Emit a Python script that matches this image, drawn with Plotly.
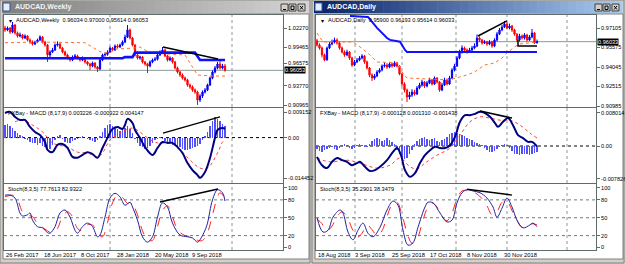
import plotly.graph_objects as go

W, H = 625, 264
FONT = "Liberation Sans"

# ---------------- AUDCAD Weekly (left window) ----------------
WK_OPEN = [1.0227,1.0198,1.0227,1.0168,1.0271,1.0154,1.0110,1.0124,1.0080,1.0110,
           1.0051,1.0021,0.9992,1.0021,1.0051,1.0095,1.0021,0.9977,0.9831,0.9875,
           0.9904,0.9977,0.9992,0.9933,0.9875,0.9831,0.9787,0.9757,0.9801,0.9816,
           0.9787,0.9757,0.9787,0.9728,0.9698,0.9669,0.9713,0.9654,0.9625,0.9757,
           0.9831,0.9840,0.9875,0.9933,0.9904,0.9963,0.9948,0.9977,1.0021,1.0095,
           1.0198,1.0080,0.9977,0.9831,0.9787,0.9800,0.9728,0.9698,0.9669,0.9728,
           0.9757,0.9770,0.9831,0.9875,0.9904,0.9816,0.9757,0.9787,0.9728,0.9640,
           0.9581,0.9537,0.9493,0.9464,0.9390,0.9361,0.9317,0.9287,0.9170,0.9229,
           0.9287,0.9317,0.9390,0.9493,0.9581,0.9640,0.9698,0.9640,0.9669]
WK_CLOSE = [1.0198,1.0227,1.0168,1.0271,1.0154,1.0110,1.0124,1.0080,1.0110,1.0051,
            1.0021,0.9992,1.0021,1.0051,1.0095,1.0021,0.9977,0.9831,0.9875,0.9904,
            0.9977,0.9992,0.9933,0.9875,0.9831,0.9787,0.9757,0.9801,0.9816,0.9787,
            0.9757,0.9787,0.9728,0.9698,0.9669,0.9713,0.9654,0.9625,0.9757,0.9831,
            0.9840,0.9875,0.9933,0.9904,0.9963,0.9948,0.9977,1.0021,1.0095,1.0198,
            1.0080,0.9977,0.9831,0.9787,0.9800,0.9728,0.9698,0.9669,0.9728,0.9757,
            0.9770,0.9831,0.9875,0.9904,0.9816,0.9757,0.9787,0.9728,0.9640,0.9581,
            0.9537,0.9493,0.9464,0.9390,0.9361,0.9317,0.9287,0.9170,0.9229,0.9287,
            0.9317,0.9390,0.9493,0.9581,0.9640,0.9698,0.9640,0.9669,0.9605]
WK_HIGH = [1.0260,1.0250,1.0240,1.0315,1.0285,1.0175,1.0160,1.0140,1.0135,1.0120,
           1.0075,1.0045,1.0040,1.0070,1.0120,1.0110,1.0040,0.9990,0.9900,0.9935,
           1.0000,1.0030,1.0010,0.9950,0.9895,0.9850,0.9805,0.9825,0.9845,0.9835,
           0.9800,0.9810,0.9800,0.9745,0.9715,0.9735,0.9725,0.9670,0.9775,0.9850,
           0.9865,0.9900,0.9955,0.9950,0.9985,0.9990,1.0000,1.0045,1.0130,1.0271,
           1.0220,1.0095,0.9990,0.9850,0.9820,0.9815,0.9745,0.9715,0.9750,0.9780,
           0.9800,0.9855,0.9900,0.9948,0.9925,0.9835,0.9810,0.9800,0.9745,0.9660,
           0.9600,0.9560,0.9515,0.9480,0.9410,0.9385,0.9340,0.9305,0.9255,0.9310,
           0.9345,0.9410,0.9515,0.9605,0.9670,0.9730,0.9750,0.9700,0.9700]
WK_LOW = [1.0170,1.0180,1.0140,1.0150,1.0130,1.0085,1.0090,1.0060,1.0065,1.0030,
          0.9995,0.9970,0.9975,1.0005,1.0035,1.0000,0.9955,0.9728,0.9800,0.9860,
          0.9890,0.9955,0.9915,0.9855,0.9810,0.9765,0.9735,0.9740,0.9785,0.9770,
          0.9735,0.9740,0.9705,0.9675,0.9610,0.9650,0.9630,0.9581,0.9610,0.9740,
          0.9805,0.9820,0.9860,0.9885,0.9890,0.9930,0.9935,0.9960,1.0005,1.0080,
          1.0060,0.9955,0.9810,0.9765,0.9760,0.9705,0.9675,0.9566,0.9650,0.9710,
          0.9740,0.9750,0.9815,0.9860,0.9800,0.9735,0.9740,0.9705,0.9620,0.9560,
          0.9510,0.9470,0.9440,0.9365,0.9335,0.9290,0.9260,0.9097,0.9140,0.9200,
          0.9265,0.9300,0.9375,0.9475,0.9560,0.9620,0.9615,0.9620,0.9585]
WK_BLUE_X = [0, 47, 48, 51, 52, 76, 77, 78, 88]
WK_BLUE = [0.9783, 0.9783, 0.9800, 0.9800, 0.9865, 0.9865, 0.9810, 0.9757, 0.9757]
WK_ORG_X = [0, 14, 32, 38, 42, 44, 52, 54, 58, 72, 74, 77, 83, 88]
WK_ORG = [1.0011, 1.0021, 1.0011, 0.9879, 0.9860, 0.9919, 0.9933, 0.9948, 0.9860,
          0.9831, 0.9713, 0.9537, 0.9522, 0.9522]
WK_HIST = [0.0045,0.0050,0.0042,0.0035,0.0025, 0.0015,0.0010,0.0005,-0.0005,-0.0010,
           -0.0015,-0.0020,-0.0018,-0.0025,-0.0020, -0.0030,-0.0035,-0.0045,-0.0040,-0.0025,
           -0.0010,0.0005,0.0010,-0.0005,-0.0015, -0.0020,-0.0018,-0.0012,-0.0008,-0.0005,
           0.0002,0.0004,-0.0003,-0.0006,-0.0010, -0.0012,-0.0015,-0.0010,0.0005,0.0020,
           0.0035,0.0045,0.0050,0.0042,0.0038, 0.0030,0.0025,0.0030,0.0035,0.0040,
           0.0030,0.0015,-0.0005,-0.0020,-0.0030, -0.0035,-0.0040,-0.0038,-0.0030,-0.0020,
           -0.0010,-0.0005,0.0002,-0.0005,-0.0012, -0.0015,-0.0020,-0.0025,-0.0030,-0.0033,
           -0.0035,-0.0040,-0.0045,-0.0043,-0.0040, -0.0038,-0.0035,-0.0030,-0.0022,-0.0010,
           0.0005,0.0020,0.0040,0.0060,0.0074, 0.0068,0.0060,0.0050,0.0043]
WK_MACD_X = [0,2,4,6,8,10,12,14,16,17,19,21,23,25,27,29,31,33,35,37,39,41,43,45,47,48,49,51,52,54,
             56,59,61,63,65,67,69,71,73,75,77,78,80,82,84,85,87,88]
WK_MACD = [0.0088,0.0092,0.0074,0.0063,0.0063,0.0038,0.0020,0.0009,-0.0016,-0.0044,
           -0.0052,-0.0026,-0.0023,-0.0037,-0.0069,-0.0072,-0.0062,-0.0052,-0.0059,-0.0072,
           -0.0037,-0.0001,0.0031,0.0038,0.0031,0.0045,0.0067,0.0052,0.0027,-0.0001,
           -0.0034,-0.0062,-0.0037,-0.0016,-0.0019,-0.0019,-0.0034,-0.0055,-0.0091,-0.0116,
           -0.0134,-0.0144,-0.0123,-0.0073,-0.0001,0.0027,0.0034,0.0031]
WK_SIG_X = [4,7,11,15,19,21,25,29,33,37,39,42,46,51,54,57,61,66,70,74,78,81,85,87,88]
WK_SIG = [0.0056,0.0063,0.0045,0.0020,-0.0019,-0.0026,-0.0034,-0.0052,-0.0055,-0.0069,
          -0.0055,-0.0009,0.0016,0.0034,0.0020,-0.0001,-0.0019,-0.0019,-0.0044,-0.0080,
          -0.0109,-0.0109,-0.0055,-0.0016,-0.0009]
WK_STO_X = [0,2,4,6,7,9,10,11,13,15,17,18,20,22,24,26,28,29,31,33,35,37,38,40,42,44,46,48,50,51,
            53,55,57,59,61,63,65,67,70,73,75,77,78,80,81,83,85,87,88]
WK_STO = [88,88,83,58,53,55,58,46,35,33,25,24,35,58,63,51,29,24,35,41,35,18,21,51,83,91,85,71,76,68,
          46,18,9,18,51,75,68,41,21,18,16,9,13,29,41,80,97,92,78]
WK_STS_X = [0,3,5,7,9,11,13,15,17,19,21,23,25,27,29,31,33,35,37,39,41,43,45,47,49,51,53,55,57,59,
            61,63,65,67,69,72,75,77,79,81,83,85,86,88]
WK_STS = [85,88,80,60,54,52,40,34,28,24,32,52,60,52,32,28,38,38,24,18,42,75,88,84,74,72,55,28,13,12,
          35,62,70,52,30,20,18,12,12,25,55,85,92,83]
WK_TL_PRICE = ([63.2, 85.2], [0.9948, 0.9772])
WK_TL_MACD = ([63.2, 86], [0.0016, 0.0074])
WK_TL_STO = ([62, 85.2], [76.5, 98.3])
WK_GRID = [42, 90.8]
WK_DATE_IDX = [-0.4, 14.8, 29.6, 44, 59.2, 74]
WK_DATE_TXT = ["26 Feb 2017", "18 Jun 2017", "8 Oct 2017", "28 Jan 2018", "20 May 2018", "9 Sep 2018"]
# third label sits just above the current-price box (as in the reference, where it peeks out)
WK_PRICE_TICKS = [1.02270, 0.99465, 0.97130, 0.93770, 0.90965]
WK_PRICE_TXT = ["1.02270", "0.99465", "0.96575", "0.93770", "0.90965"]
WK_MACD_TICKS = [0.009152, 0.0, -0.014452]
WK_MACD_TXT = ["0.009152", "0.00", "-0.014452"]
WK_LAST = 0.96053

# ---------------- AUDCAD Daily (right window) ----------------
DY_OPEN = [0.9610,0.9577,0.9554,0.9499,0.9460,0.9554,0.9585,0.9601,0.9616,0.9593,
           0.9554,0.9522,0.9499,0.9522,0.9475,0.9420,0.9444,0.9460,0.9475,0.9491,
           0.9444,0.9397,0.9342,0.9318,0.9334,0.9365,0.9381,0.9412,0.9420,0.9404,
           0.9428,0.9412,0.9436,0.9412,0.9350,0.9271,0.9224,0.9169,0.9185,0.9208,
           0.9193,0.9240,0.9263,0.9287,0.9255,0.9279,0.9303,0.9271,0.9318,0.9287,
           0.9224,0.9263,0.9303,0.9271,0.9318,0.9381,0.9412,0.9475,0.9522,0.9554,
           0.9538,0.9522,0.9538,0.9554,0.9569,0.9632,0.9616,0.9593,0.9601,0.9585,
           0.9601,0.9569,0.9616,0.9663,0.9695,0.9718,0.9742,0.9711,0.9726,0.9695,
           0.9663,0.9616,0.9648,0.9632,0.9656,0.9616,0.9640,0.9671,0.9593]
DY_CLOSE = [0.9577,0.9554,0.9499,0.9460,0.9554,0.9585,0.9601,0.9616,0.9593,0.9554,
            0.9522,0.9499,0.9522,0.9475,0.9420,0.9444,0.9460,0.9475,0.9491,0.9444,
            0.9397,0.9342,0.9318,0.9334,0.9365,0.9381,0.9412,0.9420,0.9404,0.9428,
            0.9412,0.9436,0.9412,0.9350,0.9271,0.9224,0.9169,0.9185,0.9208,0.9193,
            0.9240,0.9263,0.9287,0.9255,0.9279,0.9303,0.9271,0.9318,0.9287,0.9224,
            0.9263,0.9303,0.9271,0.9318,0.9381,0.9412,0.9475,0.9522,0.9554,0.9538,
            0.9522,0.9538,0.9554,0.9569,0.9632,0.9616,0.9593,0.9601,0.9585,0.9601,
            0.9569,0.9616,0.9663,0.9695,0.9718,0.9742,0.9711,0.9726,0.9695,0.9663,
            0.9616,0.9648,0.9632,0.9656,0.9616,0.9640,0.9671,0.9593,0.9603]
DY_HIGH = [0.9625,0.9590,0.9565,0.9510,0.9565,0.9600,0.9620,0.9635,0.9630,0.9605,
           0.9565,0.9535,0.9540,0.9530,0.9485,0.9460,0.9475,0.9490,0.9505,0.9500,
           0.9455,0.9405,0.9355,0.9350,0.9380,0.9395,0.9425,0.9440,0.9435,0.9445,
           0.9440,0.9450,0.9445,0.9420,0.9360,0.9285,0.9235,0.9210,0.9230,0.9225,
           0.9255,0.9280,0.9305,0.9295,0.9295,0.9320,0.9310,0.9330,0.9325,0.9295,
           0.9280,0.9320,0.9315,0.9335,0.9395,0.9430,0.9490,0.9540,0.9575,0.9565,
           0.9550,0.9555,0.9570,0.9590,0.9660,0.9645,0.9625,0.9615,0.9610,0.9615,
           0.9610,0.9630,0.9680,0.9710,0.9735,0.9766,0.9755,0.9745,0.9735,0.9705,
           0.9670,0.9665,0.9660,0.9670,0.9665,0.9655,0.9703,0.9680,0.9620]
DY_LOW = [0.9565,0.9540,0.9480,0.9450,0.9455,0.9545,0.9575,0.9590,0.9580,0.9540,
          0.9510,0.9485,0.9490,0.9460,0.9405,0.9410,0.9435,0.9450,0.9465,0.9430,
          0.9385,0.9325,0.9295,0.9305,0.9325,0.9355,0.9370,0.9400,0.9390,0.9395,
          0.9400,0.9405,0.9400,0.9340,0.9255,0.9205,0.9130,0.9150,0.9170,0.9180,
          0.9185,0.9230,0.9250,0.9240,0.9245,0.9270,0.9260,0.9265,0.9275,0.9210,
          0.9215,0.9255,0.9260,0.9265,0.9310,0.9370,0.9405,0.9465,0.9510,0.9525,
          0.9510,0.9515,0.9530,0.9545,0.9560,0.9600,0.9580,0.9585,0.9570,0.9575,
          0.9555,0.9560,0.9605,0.9655,0.9685,0.9710,0.9700,0.9700,0.9680,0.9650,
          0.9600,0.9605,0.9620,0.9620,0.9605,0.9610,0.9630,0.9585,0.9590]
DY_BLUE_X = [13.2, 20.4, 24, 28, 29.2, 33.2, 35.2, 36, 88]
DY_BLUE = [0.9805, 0.9797, 0.9711, 0.9632, 0.9617, 0.9603, 0.9538, 0.9522, 0.9522]
DY_ORG_X = [0, 2.4, 14.4, 17.2, 21.2, 24, 32.4, 34, 36, 53, 57, 60, 63, 67, 71, 74, 76, 79, 81, 88]
DY_ORG = [0.9671, 0.9601, 0.9601, 0.9562, 0.9499, 0.9444, 0.9436, 0.9365, 0.9318, 0.9303,
          0.9326, 0.9342, 0.9365, 0.9420, 0.9436, 0.9475, 0.9515, 0.9562, 0.9585, 0.9601]
DY_HIST = [-0.0008,-0.0012,-0.0014,-0.0010,-0.0006, -0.0004,-0.0002,-0.0006,-0.0010,-0.0004,
           0.0002,0.0004,0.0002,-0.0004,-0.0008, -0.0005,0.0002,0.0004,0.0002,-0.0003,
           -0.0002,0.0006,0.0012,0.0016,0.0019, 0.0018,0.0012,0.0015,0.0019,0.0014,
           0.0010,0.0006,-0.0010,-0.0020,-0.0026, -0.0030,-0.0028,-0.0020,-0.0010,0.0004,
           0.0012,0.0016,0.0020,0.0022,0.0018, 0.0014,0.0018,0.0020,0.0012,0.0010,
           0.0014,0.0018,0.0022,0.0028,0.0032, 0.0034,0.0032,0.0030,0.0026,0.0024,
           0.0020,0.0016,0.0014,0.0010,0.0008, 0.0006,0.0002,-0.0004,-0.0010,-0.0014,
           -0.0014,-0.0012,-0.0006,-0.0002,0.0003, 0.0005,0.0002,-0.0004,-0.0012,-0.0018,
           -0.0020,-0.0022,-0.0020,-0.0018,-0.0020, -0.0022,-0.0018,-0.0016,-0.0014]
DY_MACD_X = [0,2,4,6,8,10,12,14,16,17.2,19.2,21.2,23.2,25.2,28,30.4,32,33.6,35.2,37.2,
             39.2,41.2,43.2,45.2,47.2,49.2,51.2,53.2,55.2,57.2,59.2,61.2,63.2,65.2,67.2,69.2,
             71.2,72.4,74.4,76.4,78.4,80.4,82.4,84.4,86,88]
DY_MACD = [-0.0026,-0.0046,-0.0053,-0.0038,-0.0029,-0.0034,-0.0038,-0.0046,-0.0041,-0.0038,
           -0.0050,-0.0060,-0.0058,-0.0050,-0.0034,-0.0014,-0.0005,-0.0022,-0.0058,-0.0074,
           -0.0065,-0.0041,-0.0022,-0.0010,-0.0002,-0.0005,-0.0005,0.0002,0.0022,0.0058,
           0.0074,0.0074,0.0077,0.0082,0.0079,0.0070,0.0055,0.0046,0.0058,0.0067,
           0.0050,0.0026,0.0019,0.0010,0.0010,-0.0001]
DY_SIG_X = [0,5.2,12,17.2,24,29.2,33.2,37.2,40,43.2,48,53.2,57.2,61.2,65.2,69.2,73.2,77.2,81.2,85.2,88]
DY_SIG = [-0.0029,-0.0038,-0.0034,-0.0041,-0.0053,-0.0046,-0.0029,-0.0050,-0.0055,-0.0041,
          -0.0022,-0.0005,0.0026,0.0058,0.0070,0.0067,0.0062,0.0062,0.0050,0.0031,0.0019]
DY_STO_X = [0,2.4,4.4,6.4,9.2,10.4,12.4,14.4,16.4,18.4,20.4,22.4,25.2,28,30.4,32.4,34.4,36.4,38.4,40.4,
            43.2,44.4,46.4,49.2,52,54,56,58,60,62.4,65.2,68,70.4,72,74,76,78,80,82.4,85.2,86.4,88]
DY_STO = [50,26,29,51,63,58,26,13,29,41,24,18,34,63,78,71,29,4,8,34,
          68,76,75,58,43,46,75,92,97,95,92,83,68,51,66,83,68,46,33,38,41,35]
DY_STS_X = [0,2,4,6,8,10,12,14,16,18,20,22,24,26,28,30,32,34,36,38,40,42,44,46,48,50,52,54,56,58,
            60,62,64,66,68,70,72,74,76,78,80,82,84,86,88]
DY_STS = [48,40,28,36,52,60,52,32,17,24,38,30,20,28,52,72,76,55,25,7,14,40,65,75,68,52,45,58,82,95,
          96,94,90,82,70,55,60,76,78,62,45,34,36,40,38]
DY_TL_PRICE = ([64.4, 76], [0.9648, 0.9766])
DY_TL_BOX = ([80.4, 80.4, 88], [0.9616, 0.9569, 0.9569])
DY_TL_MACD = ([65.2, 78], [0.0084, 0.0067])
DY_TL_STO = ([60, 78], [98, 88])
DY_GRID = [15.2, 34, 55.6, 76, 100]
DY_DATE_IDX = [-0.4, 14.4, 29.2, 44.4, 59.2, 74]
DY_DATE_TXT = ["18 Aug 2018", "3 Sep 2018", "25 Sep 2018", "17 Oct 2018", "8 Nov 2018", "30 Nov 2018"]
DY_PRICE_TICKS = [0.97105, 0.95575, 0.94045, 0.92515, 0.90985]
DY_PRICE_TXT = ["0.97105", "0.95575", "0.94045", "0.92515", "0.90985"]
DY_MACD_TICKS = [0.008014, 0.0, -0.007826]
DY_MACD_TXT = ["0.008014", "0.00", "-0.007826"]
DY_LAST = 0.96033

STO_TICKS = [100, 80, 50, 20, 0]
STO_LEVELS = [80, 50, 20]

# ---------------- geometry (pixels) ----------------
def px(x):
    return x / W


def py(y):
    return 1 - y / H


PANE_Y = [(15, 107), (108, 183), (184, 250)]
WINDOWS = [
    dict(name="AUDCAD,Weekly", active=False, wx=(0, 311), px_=(4, 283), xr=[-0.4, 111.2],
         yr=[[0.90671, 1.04179], [-0.016240, 0.010583], [-4.2, 106.7]],
         o=WK_OPEN, h=WK_HIGH, l=WK_LOW, c=WK_CLOSE, blue=(WK_BLUE_X, WK_BLUE), org=(WK_ORG_X, WK_ORG),
         hist=WK_HIST, macd=(WK_MACD_X, WK_MACD), sig=(WK_SIG_X, WK_SIG),
         sto=(WK_STO_X, WK_STO), sts=(WK_STS_X, WK_STS),
         tl=[(0, WK_TL_PRICE), (1, WK_TL_MACD), (2, WK_TL_STO)], grid=WK_GRID,
         dates=(WK_DATE_IDX, WK_DATE_TXT), pt=(WK_PRICE_TICKS, WK_PRICE_TXT),
         mt=(WK_MACD_TICKS, WK_MACD_TXT), last=WK_LAST,
         lbl="AUDCAD,Weekly  0.96034 0.97000 0.95614 0.96053",
         mlbl="FXBay - MACD (8,17,9) 0.003226 -0.000922 0.004147",
         slbl="Stoch(8,3,5) 77.7613 82.9322", bw=2.6),
    dict(name="AUDCAD,Daily", active=True, wx=(312, 625), px_=(316, 596), xr=[-0.4, 111.6],
         yr=[[0.90907, 0.98125], [-0.00888, 0.00912], [-4.2, 106.7]],
         o=DY_OPEN, h=DY_HIGH, l=DY_LOW, c=DY_CLOSE, blue=(DY_BLUE_X, DY_BLUE), org=(DY_ORG_X, DY_ORG),
         hist=DY_HIST, macd=(DY_MACD_X, DY_MACD), sig=(DY_SIG_X, DY_SIG),
         sto=(DY_STO_X, DY_STO), sts=(DY_STS_X, DY_STS),
         tl=[(0, DY_TL_PRICE), (0, DY_TL_BOX), (1, DY_TL_MACD), (2, DY_TL_STO)], grid=DY_GRID,
         dates=(DY_DATE_IDX, DY_DATE_TXT), pt=(DY_PRICE_TICKS, DY_PRICE_TXT),
         mt=(DY_MACD_TICKS, DY_MACD_TXT), last=DY_LAST,
         lbl="AUDCAD,Daily  0.95900 0.96193 0.95614 0.96033",
         mlbl="FXBay - MACD (8,17,9) -0.000128 0.001310 -0.001438",
         slbl="Stoch(8,3,5) 35.2901 38.3479", bw=2.0),
]

FRAME = "#5e6c6c"
GRID = "#8c9898"


def aname(k, kind, layout=False):
    if layout:
        return ("xaxis" if kind == "x" else "yaxis") + ("" if k == 1 else str(k))
    return kind + ("" if k == 1 else str(k))


fig = go.Figure()
layout = dict(width=W, height=H, margin=dict(l=0, r=0, t=0, b=0), autosize=False,
              paper_bgcolor="#d4d0c8", plot_bgcolor="white", showlegend=False,
              hovermode=False, bargap=0)
shapes, annots = [], []


def rect(x0, y0, x1, y1, fill, line=None, lw=0):
    shapes.append(dict(type="rect", xref="paper", yref="paper", x0=px(x0), x1=px(x1),
                       y0=py(y1), y1=py(y0), fillcolor=fill, layer="below",
                       line=dict(color=line or fill, width=lw)))


def seg(x0, y0, x1, y1, color, w=1):
    shapes.append(dict(type="line", xref="paper", yref="paper", x0=px(x0), x1=px(x1),
                       y0=py(y0), y1=py(y1), line=dict(color=color, width=w), layer="above"))


def mix(c0, c1, t):
    return "rgb(%d,%d,%d)" % tuple(int(a + (b - a) * t) for a, b in zip(c0, c1))


for wi, win in enumerate(WINDOWS):
    k0 = 1 + 3 * wi
    wx0, wx1 = win["wx"]
    # window chrome
    rect(wx0, 0, wx1 - 1, 263, "#d4d0c8", "#808080", 1)
    if win["active"]:
        c0, c1, tc = (10, 36, 106), (166, 202, 240), "white"
    else:
        c0, c1, tc = (128, 128, 128), (212, 212, 212), "#f4f4f4"
    n = 40
    tx0, tx1 = wx0 + 2, wx1 - 3
    for s in range(n):
        a = tx0 + (tx1 - tx0) * s / n
        b = tx0 + (tx1 - tx0) * (s + 1) / n + 0.5
        rect(a, 1, b, 13, mix(c0, c1, s / (n - 1)))
    rect(tx0 + 1, 3, tx0 + 8, 11, "#e8eef8", "#3050a0", 1)
    annots.append(dict(xref="paper", yref="paper", x=px(tx0 + 11), y=py(7), text="<b>%s</b>" % win["name"],
                       showarrow=False, xanchor="left", yanchor="middle",
                       font=dict(family=FONT, size=7, color=tc)))
    for bi in range(3):
        bx = tx1 - 27 + bi * 8 + (1 if bi == 2 else 0)
        rect(bx, 4, bx + 7, 11, "#d4d0c8", "#404040", 1)
        if bi == 0:
            seg(bx + 2, 9.5, bx + 5, 9.5, "black", 1)
        elif bi == 1:
            rect(bx + 2, 6, bx + 5, 9.5, "rgba(0,0,0,0)", "black", 1)
        else:
            seg(bx + 2, 6, bx + 5, 9.5, "black", 1)
            seg(bx + 2, 9.5, bx + 5, 6, "black", 1)
    rect(wx0 + 3, 14, wx1 - 2, 259, "white", "#808080", 1)

    xd = [px(win["px_"][0]), px(win["px_"][1])]
    for p in range(3):
        k = k0 + p
        y0, y1 = PANE_Y[p]
        layout[aname(k, "x", True)] = dict(
            domain=xd, range=win["xr"], anchor=aname(k, "y"), showticklabels=False, ticks="",
            showgrid=False, zeroline=False, showline=True, mirror=True, linecolor=FRAME,
            linewidth=1, fixedrange=True, rangeslider=dict(visible=False))
        if p == 0:
            tv, tt = win["pt"]
        elif p == 1:
            tv, tt = win["mt"]
        else:
            tv, tt = STO_TICKS, [str(v) for v in STO_TICKS]
        layout[aname(k, "y", True)] = dict(
            domain=[py(y1), py(y0)], range=win["yr"][p], anchor=aname(k, "x"), side="right",
            tickmode="array", tickvals=tv, ticktext=tt, ticks="outside", ticklen=3,
            tickcolor=FRAME, tickfont=dict(family=FONT, size=5.6, color="black"),
            showgrid=False, zeroline=False, showline=True, mirror=True, linecolor=FRAME,
            linewidth=1, fixedrange=True, automargin=False)
        # vertical dashed grid
        for g in win["grid"]:
            shapes.append(dict(type="line", xref=aname(k, "x"), yref=aname(k, "y") + " domain",
                               x0=g, x1=g, y0=0, y1=1, layer="below",
                               line=dict(color=GRID, width=1, dash="dot")))

    xa, ya = aname(k0, "x"), aname(k0, "y")
    # current price line
    shapes.append(dict(type="line", xref=xa + " domain", yref=ya, x0=0, x1=1, y0=win["last"],
                       y1=win["last"], layer="below", line=dict(color="#8a9a9a", width=1)))
    # price pane
    idx = list(range(len(win["c"])))
    fig.add_trace(go.Candlestick(
        x=idx, open=win["o"], high=win["h"], low=win["l"], close=win["c"], xaxis=xa, yaxis=ya,
        whiskerwidth=0, hoverinfo="skip",
        increasing=dict(line=dict(color="#0000ff", width=1), fillcolor="#0000ff"),
        decreasing=dict(line=dict(color="#ff0000", width=1), fillcolor="#ff0000")))
    fig.add_trace(go.Scatter(x=win["org"][0], y=win["org"][1], xaxis=xa, yaxis=ya, mode="lines",
                             line=dict(color="#ff7030", width=1, dash="dot"), hoverinfo="skip"))
    fig.add_trace(go.Scatter(x=win["blue"][0], y=win["blue"][1], xaxis=xa, yaxis=ya, mode="lines",
                             line=dict(color="#1010ff", width=win["bw"]), hoverinfo="skip"))
    # MACD pane
    xm, ym = aname(k0 + 1, "x"), aname(k0 + 1, "y")
    shapes.append(dict(type="line", xref=xm + " domain", yref=ym, x0=0, x1=1, y0=0, y1=0,
                       layer="below", line=dict(color="black", width=1, dash="dot")))
    fig.add_trace(go.Bar(x=list(range(len(win["hist"]))), y=win["hist"], xaxis=xm, yaxis=ym,
                         width=0.45, marker=dict(color="#5050ff", line=dict(width=0)), hoverinfo="skip"))
    fig.add_trace(go.Scatter(x=win["sig"][0], y=win["sig"][1], xaxis=xm, yaxis=ym, mode="lines",
                             line=dict(color="#ff3a3a", width=1, dash="dot", shape="spline"),
                             hoverinfo="skip"))
    fig.add_trace(go.Scatter(x=win["macd"][0], y=win["macd"][1], xaxis=xm, yaxis=ym, mode="lines",
                             line=dict(color="#000080", width=2, shape="spline"), hoverinfo="skip"))
    # Stoch pane
    xs, ys = aname(k0 + 2, "x"), aname(k0 + 2, "y")
    for lv in STO_LEVELS:
        shapes.append(dict(type="line", xref=xs + " domain", yref=ys, x0=0, x1=1, y0=lv, y1=lv,
                           layer="below", line=dict(color="#6e7a7a", width=1, dash="dot")))
    fig.add_trace(go.Scatter(x=win["sts"][0], y=win["sts"][1], xaxis=xs, yaxis=ys, mode="lines",
                             line=dict(color="#ff2020", width=1, dash="dash", shape="spline"),
                             hoverinfo="skip"))
    fig.add_trace(go.Scatter(x=win["sto"][0], y=win["sto"][1], xaxis=xs, yaxis=ys, mode="lines",
                             line=dict(color="#2020a0", width=1, shape="spline"), hoverinfo="skip"))
    # trend lines
    for p, (tx, ty) in win["tl"]:
        fig.add_trace(go.Scatter(x=tx, y=ty, xaxis=aname(k0 + p, "x"), yaxis=aname(k0 + p, "y"),
                                 mode="lines", line=dict(color="black", width=1.5), hoverinfo="skip"))
    # labels
    lx = win["px_"][0]
    annots.append(dict(xref="paper", yref="paper", x=px(lx + 3), y=py(20), text="▾",
                       showarrow=False, xanchor="left", yanchor="middle",
                       font=dict(family="DejaVu Sans", size=6, color="black")))
    for txt, yy, off in [(win["lbl"], 20, 10), (win["mlbl"], 113, 2), (win["slbl"], 188.5, 2)]:
        annots.append(dict(xref="paper", yref="paper", x=px(lx + off), y=py(yy), text=txt,
                           showarrow=False, xanchor="left", yanchor="middle",
                           font=dict(family=FONT, size=5.6, color="black")))
    for di, dt in zip(*win["dates"]):
        annots.append(dict(xref=xs, yref="paper", x=di, y=py(255), text=dt, showarrow=False,
                           xanchor="left", yanchor="middle",
                           font=dict(family=FONT, size=5.8, color="black")))
    annots.append(dict(xref="paper", yref=ya, x=px(win["px_"][1] + 1), y=win["last"],
                       text="%.5f" % win["last"], showarrow=False, xanchor="left", yanchor="middle",
                       bgcolor="black", borderpad=0,
                       font=dict(family=FONT, size=5.6, color="white")))

layout["shapes"] = shapes
layout["annotations"] = annots
fig.update_layout(**layout)
fig.write_html("out.html", config={"displayModeBar": False, "staticPlot": True})
